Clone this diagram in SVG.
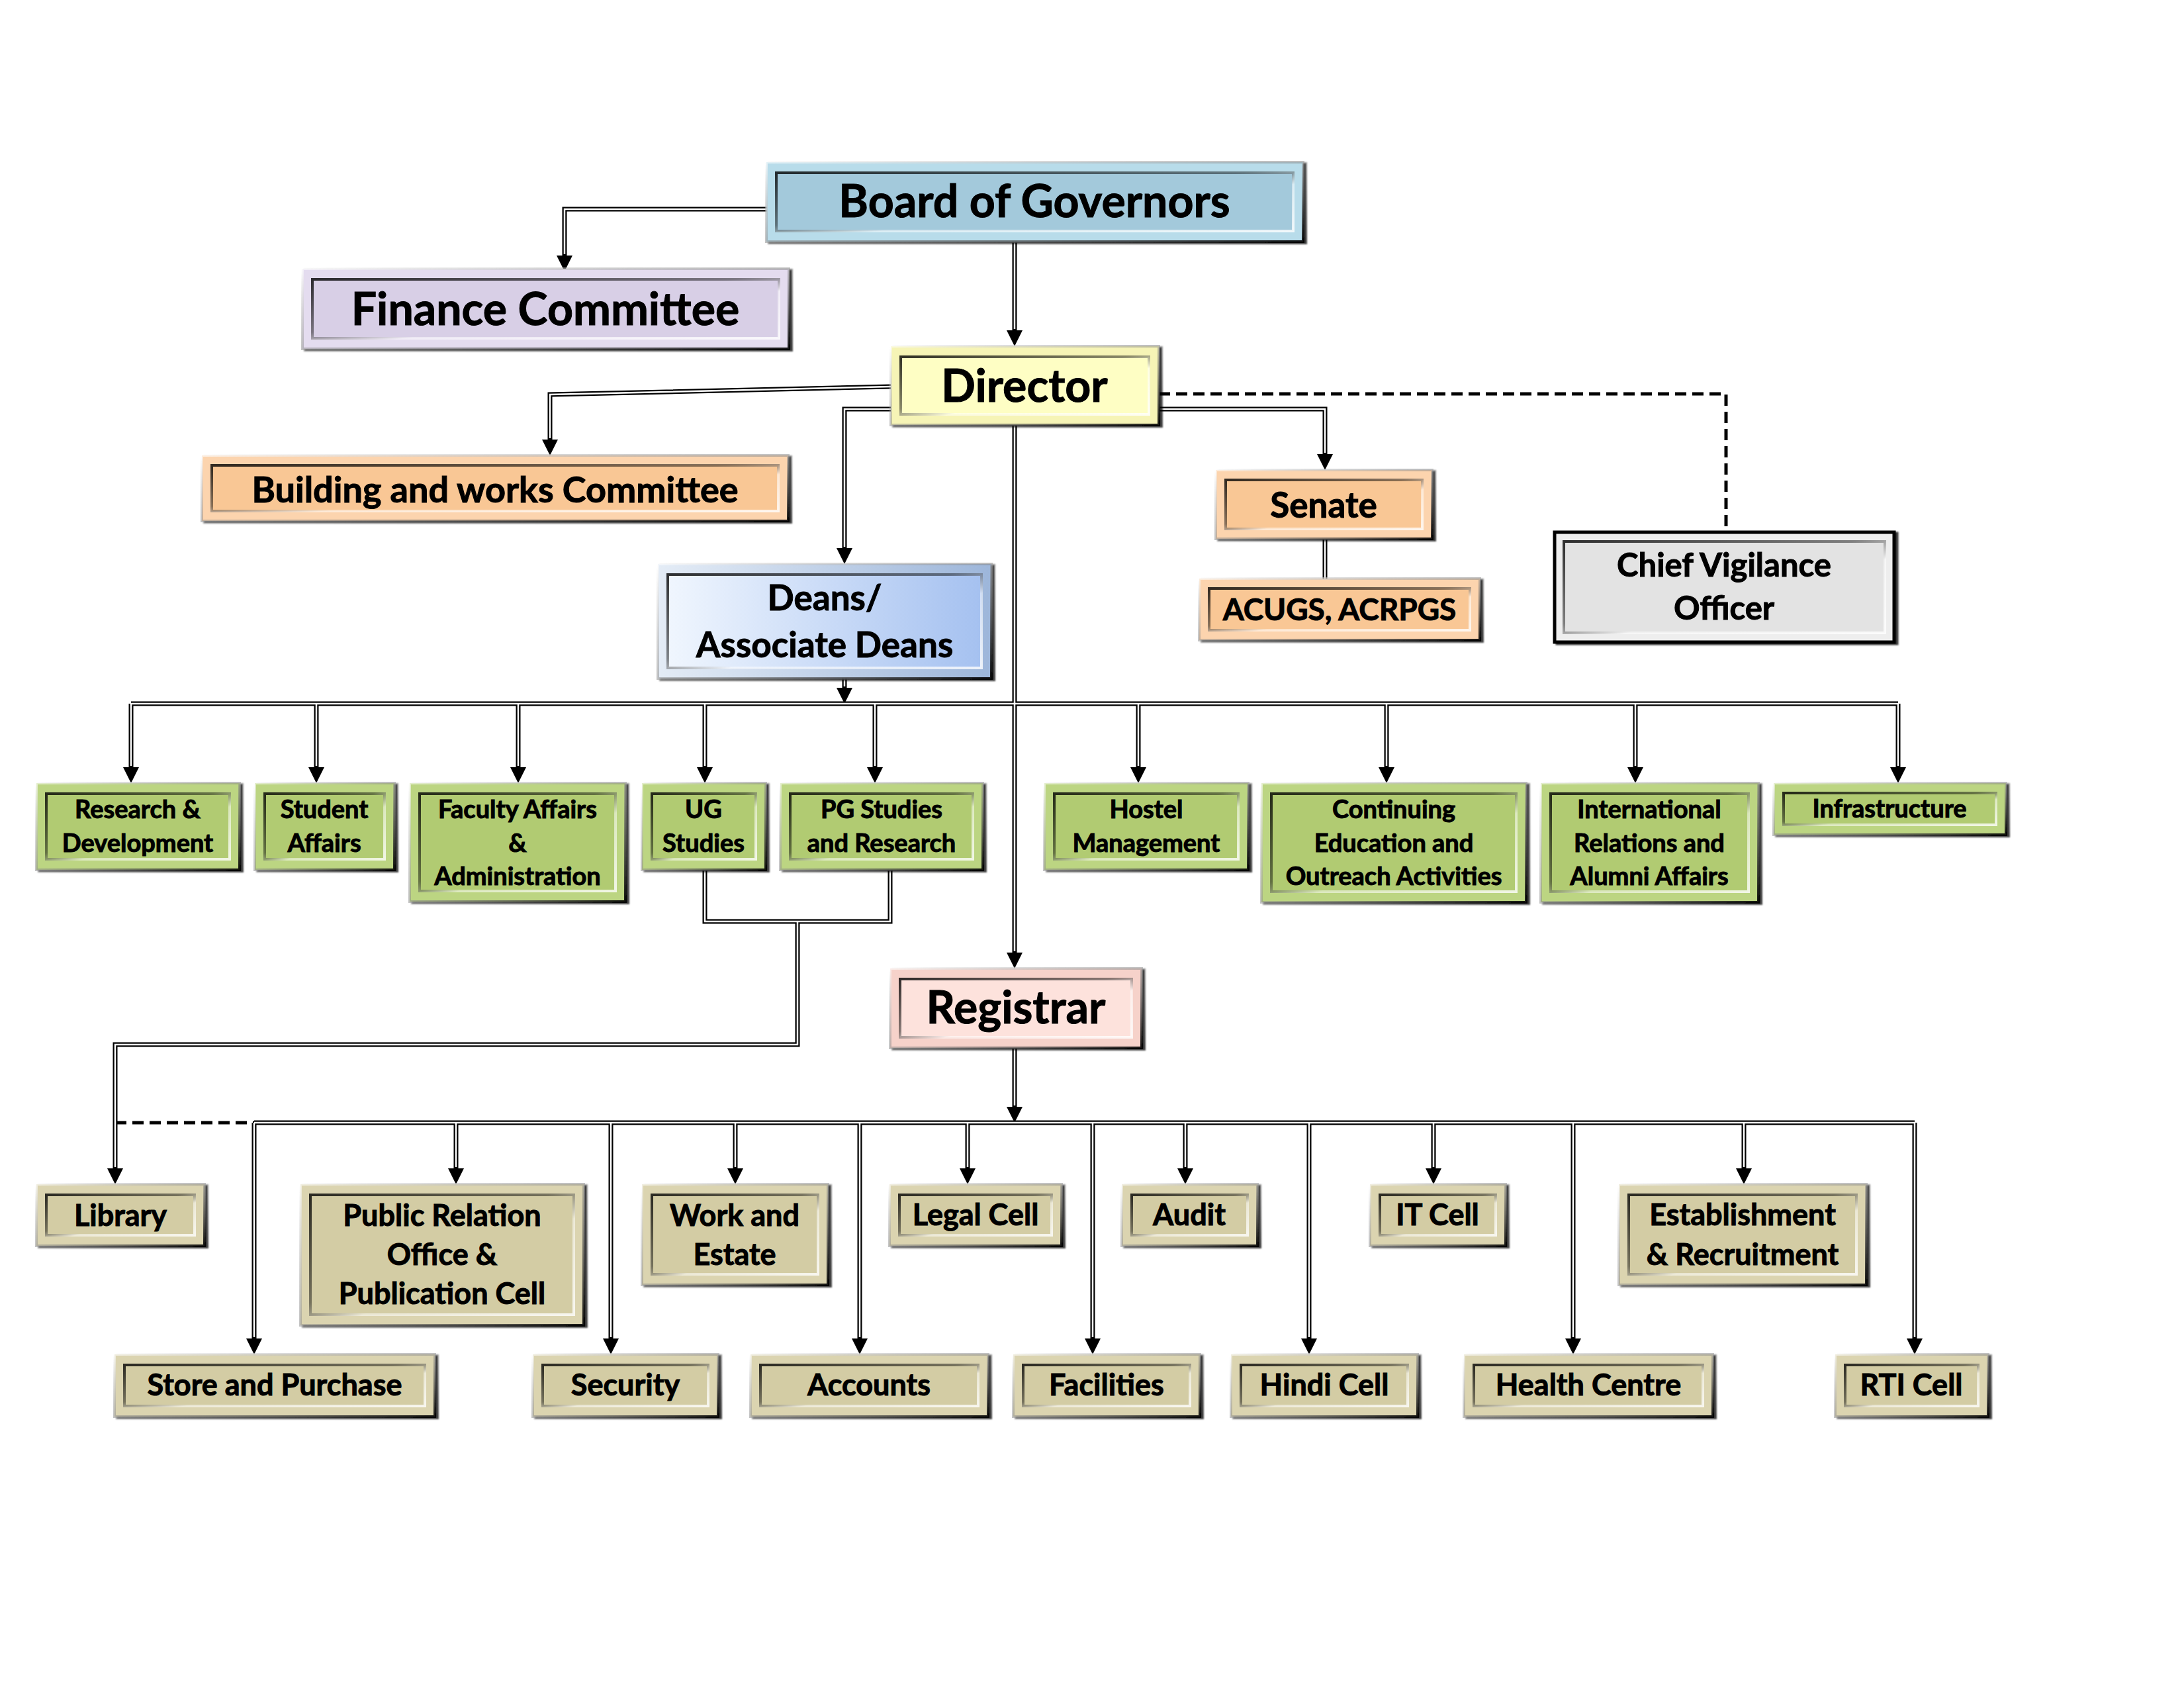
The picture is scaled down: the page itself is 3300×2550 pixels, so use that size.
<svg xmlns="http://www.w3.org/2000/svg" width="3300" height="2550" viewBox="0 0 3300 2550">
<style>
.t{font-family:Lato,'Liberation Sans',sans-serif;font-weight:700;text-anchor:middle;fill:#000;stroke:#000;stroke-width:1}
.f68{font-size:68px}.f54{font-size:54px}.f53{font-size:53px}.f49{font-size:49px}.f46{font-size:46px}.f38{font-size:38px}.f45{font-size:45px}
.o{stroke:url(#bo);stroke-width:4;filter:url(#sh)}
.i{stroke:url(#bi);stroke-width:4}
.blue .o{fill:#b8dcea}.blue .i{fill:#a3c9db}
.lav .o{fill:#e4dcef}.lav .i{fill:#d8cfe6}
.yel .o{fill:#f6f4b6}.yel .i{fill:#fefec4}
.pch .o{fill:#fcd4ae}.pch .i{fill:#f9c795}
.gry .o{fill:#eeeeee;stroke:#000;stroke-width:5}.gry .i{fill:#e3e3e3}
.dea .o{fill:url(#gd2)}.dea .i{fill:url(#gd)}
.grn .o{fill:#bcd582}.grn .i{fill:#b1cb72}
.pnk .o{fill:#f6d2ca}.pnk .i{fill:#fde2dc}
.kha .o{fill:#dbd4b0}.kha .i{fill:#d3cca4}
.w1{fill:none;stroke:#000;stroke-width:7}
.w2{fill:none;stroke:#fff;stroke-width:2.5}
.ds{fill:none;stroke:#000;stroke-width:5;stroke-dasharray:17 9}
</style>
<defs>
<filter id="sh" x="-3%" y="-5%" width="108%" height="115%"><feDropShadow dx="4" dy="2" stdDeviation="1.2" flood-color="#000" flood-opacity="0.8"/></filter>
<linearGradient id="gd" x1="0" y1="0" x2="1" y2="0"><stop offset="0" stop-color="#f0f6fe"/><stop offset="1" stop-color="#a5c1f0"/></linearGradient>
<linearGradient id="gd2" x1="0" y1="0" x2="1" y2="0"><stop offset="0" stop-color="#e4ecf6"/><stop offset="1" stop-color="#9db6da"/></linearGradient>
<linearGradient id="bi" x1="0" y1="0" x2="1" y2="1"><stop offset="0" stop-color="#000" stop-opacity="0.8"/><stop offset="0.45" stop-color="#000" stop-opacity="0.45"/><stop offset="0.6" stop-color="#fff" stop-opacity="0.5"/><stop offset="1" stop-color="#fff" stop-opacity="0.8"/></linearGradient>
<linearGradient id="bo" x1="0" y1="0" x2="1" y2="1"><stop offset="0" stop-color="#fff" stop-opacity="0.6"/><stop offset="0.5" stop-color="#888" stop-opacity="0.5"/><stop offset="1" stop-color="#000" stop-opacity="0.9"/></linearGradient>
<marker id="ar" markerUnits="userSpaceOnUse" markerWidth="24" markerHeight="24" viewBox="0 0 24 24" refX="0" refY="12" orient="auto"><path d="M0,0 L24,12 L0,24 z" fill="#000"/></marker>
</defs>
<rect width="3300" height="2550" fill="#fff"/>

<g id="connectors">
<path class="ds" d="M1751,595 H2608 V804"/>
<path class="ds" d="M174,1696 H384"/>
<g class="w1">
<path marker-end="url(#ar)" d="M1158,316 H853 V386"/>
<path marker-end="url(#ar)" d="M1533,365 V499"/>
<path marker-end="url(#ar)" d="M1346,584 L831,596 V664"/>
<path marker-end="url(#ar)" d="M1346,618 H1276 V828"/>
<path marker-end="url(#ar)" d="M1751,618 H2002 V686"/>
<path marker-end="url(#ar)" d="M1533,642 V1439"/>
<path d="M2002,814 V874"/>
<path marker-end="url(#ar)" d="M1276,1025 V1039"/>
<path d="M198,1063 H2868"/>
<path marker-end="url(#ar)" d="M198,1063 V1159"/>
<path marker-end="url(#ar)" d="M478,1063 V1159"/>
<path marker-end="url(#ar)" d="M783,1063 V1159"/>
<path marker-end="url(#ar)" d="M1065,1063 V1159"/>
<path marker-end="url(#ar)" d="M1322,1063 V1159"/>
<path marker-end="url(#ar)" d="M1720,1063 V1159"/>
<path marker-end="url(#ar)" d="M2095,1063 V1159"/>
<path marker-end="url(#ar)" d="M2471,1063 V1159"/>
<path marker-end="url(#ar)" d="M2868,1063 V1159"/>
<path d="M1065,1314 V1392 H1345 V1314"/>
<path marker-end="url(#ar)" d="M1205,1392 V1578 H174 V1765"/>
<path marker-end="url(#ar)" d="M1533,1583 V1672"/>
<path d="M384,1696 H2893"/>
<path marker-end="url(#ar)" d="M689,1696 V1765"/>
<path marker-end="url(#ar)" d="M1111,1696 V1765"/>
<path marker-end="url(#ar)" d="M1462,1696 V1765"/>
<path marker-end="url(#ar)" d="M1791,1696 V1765"/>
<path marker-end="url(#ar)" d="M2166,1696 V1765"/>
<path marker-end="url(#ar)" d="M2635,1696 V1765"/>
<path marker-end="url(#ar)" d="M384,1696 V2022"/>
<path marker-end="url(#ar)" d="M923,1696 V2022"/>
<path marker-end="url(#ar)" d="M1299,1696 V2022"/>
<path marker-end="url(#ar)" d="M1651,1696 V2022"/>
<path marker-end="url(#ar)" d="M1978,1696 V2022"/>
<path marker-end="url(#ar)" d="M2377,1696 V2022"/>
<path marker-end="url(#ar)" d="M2893,1696 V2022"/>
</g>
<g class="w2">
<path d="M1158,316 H853 V384"/>
<path d="M1533,365 V497"/>
<path d="M1346,584 L831,596 V662"/>
<path d="M1346,618 H1276 V826"/>
<path d="M1751,618 H2002 V684"/>
<path d="M1533,642 V1437"/>
<path d="M2002,814 V874"/>
<path d="M1276,1025 V1037"/>
<path d="M198,1063 H2868"/>
<path d="M198,1063 V1157 M478,1063 V1157 M783,1063 V1157 M1065,1063 V1157 M1322,1063 V1157 M1720,1063 V1157 M2095,1063 V1157 M2471,1063 V1157 M2868,1063 V1157"/>
<path d="M1065,1314 V1392 H1345 V1314"/>
<path d="M1205,1392 V1578 H174 V1763"/>
<path d="M1533,1583 V1670"/>
<path d="M384,1696 H2893"/>
<path d="M689,1696 V1763 M1111,1696 V1763 M1462,1696 V1763 M1791,1696 V1763 M2166,1696 V1763 M2635,1696 V1763"/>
<path d="M384,1696 V2020 M923,1696 V2020 M1299,1696 V2020 M1651,1696 V2020 M1978,1696 V2020 M2377,1696 V2020 M2893,1696 V2020"/>
</g>
</g>

<g id="n-bog" class="blue"><rect class="o" x="1158" y="245" width="811" height="120"/><rect class="i" x="1173" y="261" width="781" height="88"/><text class="t f68" x="1563" y="328">Board of Governors</text></g>
<g id="n-finance" class="lav"><rect class="o" x="457" y="406" width="735" height="121"/><rect class="i" x="472" y="422" width="705" height="89"/><text class="t f68" x="824" y="491">Finance Committee</text></g>
<g id="n-director" class="yel"><rect class="o" x="1346" y="523" width="405" height="119"/><rect class="i" x="1361" y="539" width="375" height="87"/><text class="t f68" x="1548" y="607">Director</text></g>
<g id="n-building" class="pch"><rect class="o" x="305" y="688" width="886" height="99"/><rect class="i" x="320" y="703" width="856" height="69"/><text class="t f54" x="748" y="759">Building and works Committee</text></g>
<g id="n-senate" class="pch"><rect class="o" x="1837" y="710" width="327" height="104"/><rect class="i" x="1852" y="725" width="297" height="74"/><text class="t f53" x="2000" y="782">Senate</text></g>
<g id="n-acugs" class="pch"><rect class="o" x="1812" y="874" width="424" height="93"/><rect class="i" x="1827" y="889" width="394" height="63"/><text class="t f46" x="2024" y="937">ACUGS, ACRPGS</text></g>
<g id="n-cvo" class="gry"><rect class="o" x="2349" y="804" width="513" height="166"/><rect class="i" x="2363" y="818" width="485" height="138"/><text class="t f49" x="2605" y="871">Chief Vigilance</text><text class="t f49" x="2605" y="936">Officer</text></g>
<g id="n-deans" class="dea"><rect class="o" x="994" y="852" width="504" height="173"/><rect class="i" x="1009" y="868" width="474" height="141"/><text class="t f53" x="1246" y="922">Deans/</text><text class="t f53" x="1246" y="993">Associate Deans</text></g>

<g id="n-rd" class="grn"><rect class="o" x="55" y="1183" width="307" height="131"/><rect class="i" x="70" y="1199" width="277" height="99"/><text class="t f38" x="208" y="1236">Research &amp;</text><text class="t f38" x="208" y="1287">Development</text></g>
<g id="n-student" class="grn"><rect class="o" x="385" y="1183" width="211" height="131"/><rect class="i" x="400" y="1199" width="181" height="99"/><text class="t f38" x="490" y="1236">Student</text><text class="t f38" x="490" y="1287">Affairs</text></g>
<g id="n-faculty" class="grn"><rect class="o" x="619" y="1183" width="326" height="179"/><rect class="i" x="634" y="1199" width="296" height="147"/><text class="t f38" x="782" y="1236">Faculty Affairs</text><text class="t f38" x="782" y="1287">&amp;</text><text class="t f38" x="782" y="1337">Administration</text></g>
<g id="n-ug" class="grn"><rect class="o" x="970" y="1183" width="187" height="131"/><rect class="i" x="985" y="1199" width="157" height="99"/><text class="t f38" x="1063" y="1236">UG</text><text class="t f38" x="1063" y="1287">Studies</text></g>
<g id="n-pg" class="grn"><rect class="o" x="1179" y="1183" width="306" height="131"/><rect class="i" x="1194" y="1199" width="276" height="99"/><text class="t f38" x="1332" y="1236">PG Studies</text><text class="t f38" x="1332" y="1287">and Research</text></g>
<g id="n-hostel" class="grn"><rect class="o" x="1578" y="1183" width="308" height="131"/><rect class="i" x="1593" y="1199" width="278" height="99"/><text class="t f38" x="1732" y="1236">Hostel</text><text class="t f38" x="1732" y="1287">Management</text></g>
<g id="n-continuing" class="grn"><rect class="o" x="1906" y="1183" width="400" height="180"/><rect class="i" x="1921" y="1199" width="370" height="148"/><text class="t f38" x="2106" y="1236">Continuing</text><text class="t f38" x="2106" y="1287">Education and</text><text class="t f38" x="2106" y="1337">Outreach Activities</text></g>
<g id="n-international" class="grn"><rect class="o" x="2328" y="1183" width="329" height="180"/><rect class="i" x="2343" y="1199" width="299" height="148"/><text class="t f38" x="2492" y="1236">International</text><text class="t f38" x="2492" y="1287">Relations and</text><text class="t f38" x="2492" y="1337">Alumni Affairs</text></g>
<g id="n-infra" class="grn"><rect class="o" x="2680" y="1183" width="351" height="78"/><rect class="i" x="2695" y="1198" width="321" height="48"/><text class="t f38" x="2855" y="1235">Infrastructure</text></g>

<g id="n-registrar" class="pnk"><rect class="o" x="1345" y="1463" width="380" height="120"/><rect class="i" x="1360" y="1479" width="350" height="88"/><text class="t f68" x="1535" y="1546">Registrar</text></g>

<g id="n-library" class="kha"><rect class="o" x="55" y="1789" width="254" height="93"/><rect class="i" x="70" y="1805" width="224" height="61"/><text class="t f45" x="182" y="1852">Library</text></g>
<g id="n-pr" class="kha"><rect class="o" x="454" y="1789" width="428" height="213"/><rect class="i" x="469" y="1805" width="398" height="181"/><text class="t f45" x="668" y="1852">Public Relation</text><text class="t f45" x="668" y="1911">Office &amp;</text><text class="t f45" x="668" y="1970">Publication Cell</text></g>
<g id="n-work" class="kha"><rect class="o" x="970" y="1789" width="281" height="152"/><rect class="i" x="985" y="1805" width="251" height="120"/><text class="t f45" x="1110" y="1852">Work and</text><text class="t f45" x="1110" y="1911">Estate</text></g>
<g id="n-legal" class="kha"><rect class="o" x="1344" y="1789" width="260" height="93"/><rect class="i" x="1359" y="1805" width="230" height="61"/><text class="t f45" x="1474" y="1851">Legal Cell</text></g>
<g id="n-audit" class="kha"><rect class="o" x="1695" y="1789" width="205" height="93"/><rect class="i" x="1710" y="1805" width="175" height="61"/><text class="t f45" x="1797" y="1851">Audit</text></g>
<g id="n-it" class="kha"><rect class="o" x="2070" y="1789" width="205" height="93"/><rect class="i" x="2085" y="1805" width="175" height="61"/><text class="t f45" x="2172" y="1851">IT Cell</text></g>
<g id="n-estab" class="kha"><rect class="o" x="2446" y="1789" width="374" height="152"/><rect class="i" x="2461" y="1805" width="344" height="120"/><text class="t f45" x="2633" y="1851">Establishment</text><text class="t f45" x="2633" y="1911">&amp; Recruitment</text></g>

<g id="n-store" class="kha"><rect class="o" x="173" y="2046" width="484" height="94"/><rect class="i" x="188" y="2062" width="454" height="62"/><text class="t f45" x="415" y="2108">Store and Purchase</text></g>
<g id="n-security" class="kha"><rect class="o" x="805" y="2046" width="280" height="94"/><rect class="i" x="820" y="2062" width="250" height="62"/><text class="t f45" x="945" y="2108">Security</text></g>
<g id="n-accounts" class="kha"><rect class="o" x="1134" y="2046" width="359" height="94"/><rect class="i" x="1149" y="2062" width="329" height="62"/><text class="t f45" x="1313" y="2108">Accounts</text></g>
<g id="n-facilities" class="kha"><rect class="o" x="1531" y="2046" width="282" height="94"/><rect class="i" x="1546" y="2062" width="252" height="62"/><text class="t f45" x="1672" y="2108">Facilities</text></g>
<g id="n-hindi" class="kha"><rect class="o" x="1860" y="2046" width="282" height="94"/><rect class="i" x="1875" y="2062" width="252" height="62"/><text class="t f45" x="2001" y="2108">Hindi Cell</text></g>
<g id="n-health" class="kha"><rect class="o" x="2212" y="2046" width="376" height="94"/><rect class="i" x="2227" y="2062" width="346" height="62"/><text class="t f45" x="2400" y="2108">Health Centre</text></g>
<g id="n-rti" class="kha"><rect class="o" x="2773" y="2046" width="231" height="94"/><rect class="i" x="2788" y="2062" width="201" height="62"/><text class="t f45" x="2888" y="2108">RTI Cell</text></g>
</svg>
